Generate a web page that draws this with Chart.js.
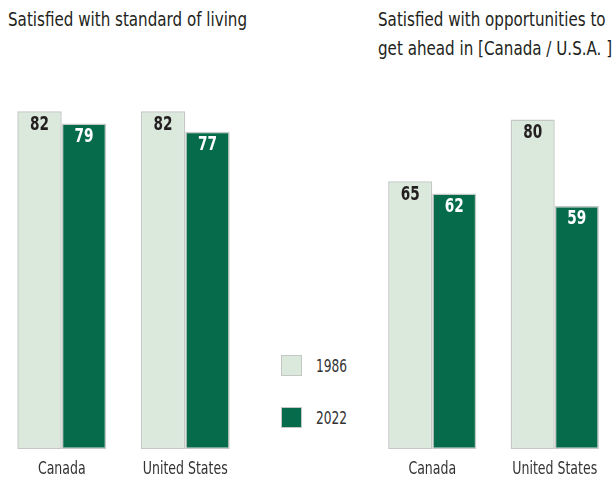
<!DOCTYPE html>
<html lang="en">
<head>
  <meta charset="UTF-8">
  <title>Satisfaction 1986 vs 2022</title>
  <script src="https://cdn.jsdelivr.net/npm/chart.js"></script>
  <style>
    html, body {
      margin: 0;
      padding: 0;
      width: 614px;
      height: 478px;
      overflow: hidden;
      background: #fff;
      font-family: 'DejaVu Sans Condensed', 'DejaVu Sans', sans-serif;
      color: #231f20;
    }
    .title {
      position: absolute;
      font-size: 19px;
      line-height: 29px;
      white-space: nowrap;
      transform: scaleX(0.885);
      transform-origin: left top;
    }
    .box {
      position: absolute;
    }
    .legend-item {
      position: absolute;
      left: 281px;
      display: flex;
      align-items: center;
      font-size: 17px;
      color: #333;
    }
    .legend-item span.sw {
      display: inline-block;
      width: 21px;
      height: 21px;
      border: 1px solid #c4c8c5;
      margin-right: 14px;
      box-sizing: border-box;
    }
    .legend-item span.txt {
      display: inline-block;
      transform: scaleX(0.8);
      transform-origin: left center;
    }
  </style>
</head>
<body>

  <div class="title" style="left:8px; top:5px;">Satisfied with standard of living</div>
  <div class="title" style="left:378px; top:5px;">Satisfied with opportunities to<br>get ahead in [Canada / U.S.A. ]</div>

  <div class="box" style="left:0; top:0; width:250px; height:478px;"><canvas id="livingChart"></canvas></div>
  <div class="box" style="left:371px; top:0; width:248px; height:478px;"><canvas id="opportunityChart"></canvas></div>

  <div id="legend"></div>

  <script>
    // Data
    const countries = ['Canada', 'United States'];
    const years = ['1986', '2022'];
    const living1986 = [82, 82];
    const living2022 = [79, 77];
    const opportunity1986 = [65, 80];
    const opportunity2022 = [62, 59];

    const lightGreen = '#dbe9dd';
    const darkGreen = '#056b4b';
    const edgeGray = '#c4c8c5';
    const valueFont = "bold 19px 'DejaVu Sans', sans-serif";
    const labelFont = "17px 'DejaVu Sans Condensed', 'DejaVu Sans', sans-serif";

    // condensed text: squeeze the canvas horizontally around the anchor point
    function squeezedText(ctx, text, x, y, squeeze) {
      ctx.save();
      ctx.translate(x, y);
      ctx.scale(squeeze, 1);
      ctx.fillText(text, 0, 0);
      ctx.restore();
    }

    // Values inside the top of each bar + category names under the x scale
    const barText = {
      id: 'barText',
      afterDatasetsDraw(chart) {
        const ctx = chart.ctx;
        ctx.save();
        ctx.textAlign = 'center';
        ctx.textBaseline = 'middle';
        ctx.font = valueFont;
        chart.data.datasets.forEach((ds, i) => {
          ctx.fillStyle = i === 0 ? '#231f20' : '#ffffff';
          chart.getDatasetMeta(i).data.forEach((bar, j) => {
            squeezedText(ctx, String(ds.data[j]), bar.x, bar.y + 13.5, 0.72);
          });
        });
        const xScale = chart.scales.x;
        ctx.font = labelFont;
        ctx.fillStyle = '#333';
        chart.data.labels.forEach((label, i) => {
          squeezedText(ctx, label, xScale.getPixelForTick(i), chart.chartArea.bottom + 20.5, 0.82);
        });
        ctx.restore();
      }
    };

    function makeChart(id, oldValues, newValues) {
      return new Chart(document.getElementById(id), {
        type: 'bar',
        data: {
          labels: countries,
          datasets: [
            {
              label: years[0],
              data: oldValues,
              backgroundColor: lightGreen,
              borderColor: edgeGray,
              borderWidth: 1.5,
              borderSkipped: false
            },
            {
              label: years[1],
              data: newValues,
              backgroundColor: darkGreen,
              borderColor: edgeGray,
              borderWidth: 1.5,
              borderSkipped: false
            }
          ]
        },
        options: {
          responsive: true,
          maintainAspectRatio: false,
          animation: false,
          categoryPercentage: 0.72,
          barPercentage: 1,
          layout: { padding: { top: 37, left: 0, right: 3, bottom: 29 } },
          plugins: {
            legend: { display: false },
            tooltip: { enabled: false }
          },
          scales: {
            x: { display: false },
            y: { display: false, min: 0, max: 100 }
          }
        },
        plugins: [barText]
      });
    }

    makeChart('livingChart', living1986, living2022);
    makeChart('opportunityChart', opportunity1986, opportunity2022);

    // Legend
    const legendEl = document.getElementById('legend');
    [lightGreen, darkGreen].forEach((color, i) => {
      const item = document.createElement('div');
      item.className = 'legend-item';
      item.style.top = (355 + i * 52) + 'px';
      item.innerHTML = '<span class="sw" style="background:' + color + '"></span><span class="txt">' + years[i] + '</span>';
      legendEl.appendChild(item);
    });
  </script>

</body>
</html>
